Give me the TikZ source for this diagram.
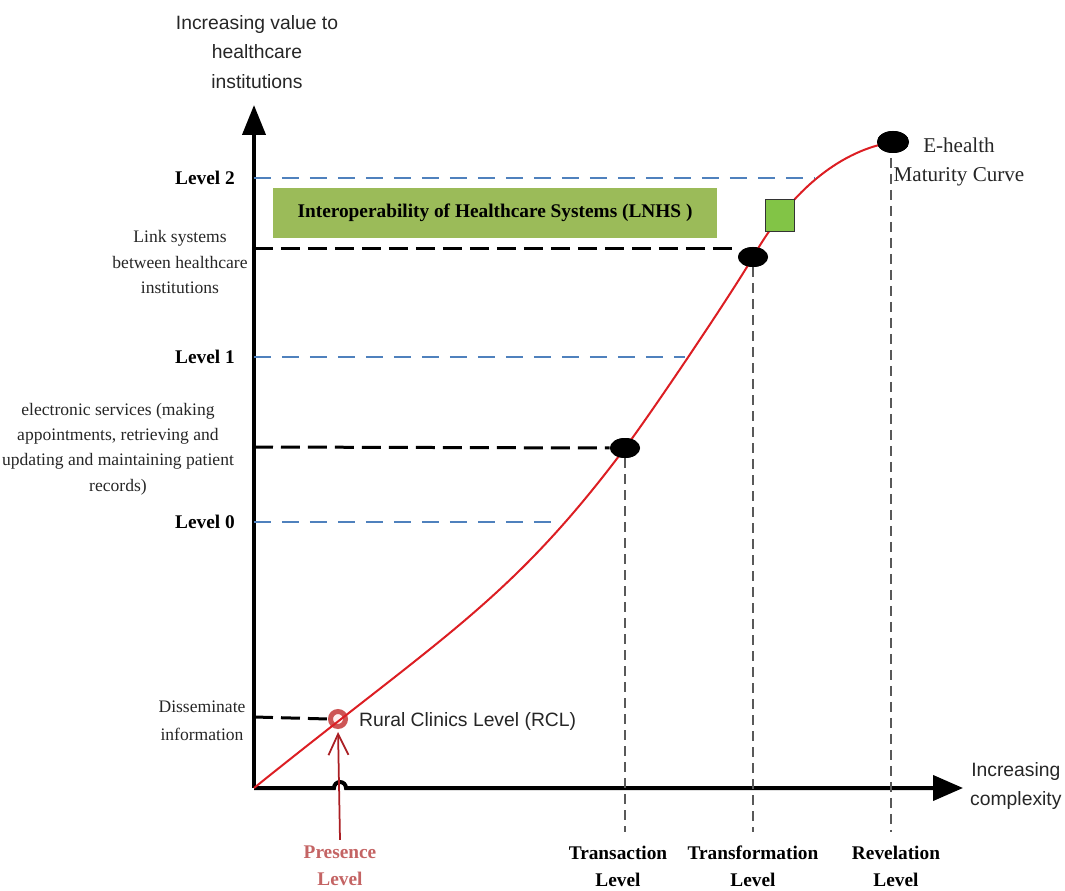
\documentclass[tikz,border=0pt]{standalone}
\usepackage{fontspec}
\setmainfont{Liberation Serif}
\setsansfont{Liberation Sans}
\usetikzlibrary{arrows.meta,shapes.geometric}
\definecolor{lvlblue}{RGB}{79,129,189}
\definecolor{curvered}{RGB}{220,30,35}
\definecolor{arrowred}{RGB}{170,30,35}
\definecolor{ringred}{RGB}{205,85,85}
\definecolor{presred}{RGB}{196,100,100}
\definecolor{boxgreen}{RGB}{155,187,89}
\definecolor{sqgreen}{RGB}{130,196,70}
\begin{document}
\begin{tikzpicture}[x=0.02cm, y=-0.02cm,
    levelline/.style={lvlblue, line width=0.045cm, dash pattern=on 0.34cm off 0.22cm},
    linkline/.style={black, line width=0.06cm, dash pattern=on 0.38cm off 0.16cm},
    guideline/.style={black!65, line width=0.03cm, dash pattern=on 0.2cm off 0.12cm},
    dot/.style={ellipse, fill=black, minimum width=0.6cm, minimum height=0.4cm, inner sep=0pt},
    lvl/.style={font=\fontsize{11}{13}\selectfont\bfseries, anchor=east},
    note/.style={font=\fontsize{10}{14.5}\selectfont, align=center, text=black!85},
    stage/.style={font=\fontsize{11}{15.3}\selectfont\bfseries, align=center},
    axislabel/.style={font=\sffamily\fontsize{11}{17}\selectfont, align=center, text=black!85}
]
\useasboundingbox (0,0) rectangle (1065,891);

% axes
\coordinate (o) at (254,788);
\coordinate (ytop) at (254,105);
\coordinate (xend) at (963,788);
\coordinate (bot) at (0,832);
\draw[-{Triangle[length=0.6cm,width=0.46cm]}, line width=0.08cm] (o) -- (ytop);
\draw[-{Triangle[length=0.6cm,width=0.5cm]}, line width=0.08cm]
    (o) -- (334,788) arc[start angle=180, end angle=0, radius=0.12cm] -- (xend);
\node[axislabel] (yname) at (257,52) {Increasing value to\\healthcare\\institutions};
\node[axislabel, anchor=west, font=\sffamily\fontsize{11}{16}\selectfont] (xname) at (964,786) {Increasing\\complexity};

% levels
\node[lvl] (lv2) at (241,178) {Level 2};
\node[lvl] (lv1) at (241,357) {Level 1};
\node[lvl] (lv0) at (241,522) {Level 0};
\coordinate (l2e) at (815,178);
\coordinate (l1e) at (685,357);
\coordinate (l0e) at (560,522);
\draw[levelline] (o |- lv2) -- (l2e);
\draw[levelline] (o |- lv1) -- (l1e);
\draw[levelline] (o |- lv0) -- (l0e);

% notes on the value axis
\node[note] (link) at (180,262) {Link systems\\between healthcare\\institutions};
\node[note] (elec) at (118,449) {electronic services (making\\appointments, retrieving and\\updating and maintaining patient\\records)};
\node[note, font=\fontsize{10}{16}\selectfont] (diss) at (202,721) {Disseminate\\information};

\node[fill=boxgreen, minimum width=8.88cm, minimum height=1cm,
    font=\fontsize{11}{13}\selectfont\bfseries] (lnhs) at (495,213)
    {Interoperability of Healthcare Systems (LNHS )};

% stages
\node[dot] (trans) at (625,448) {};
\node[dot] (transf) at (753,257) {};
\node[dot, minimum width=0.64cm, minimum height=0.44cm] (rev) at (893,142) {};
\node[stage, text=presred] (pres) at (340,866) {Presence\\Level};
\node[stage] (transl) at (618,866) {Transaction\\Level};
\node[stage] (transfl) at (753,866) {Transformation\\Level};
\node[stage] (revl) at (896,866) {Revelation\\Level};
\draw[guideline] (trans) -- (trans |- bot);
\draw[guideline] (transf) -- (transf |- bot);
\draw[guideline] (891,142) -- (891,832);

\node[circle, draw=ringred, line width=0.1cm, fill=red!6, minimum size=0.3cm, inner sep=0pt] (rcl) at (338,719) {};
\draw[linkline] (254,249) -- (transf.west |- 0,249);
\draw[linkline] (254,447) -- (trans.west);
\draw[linkline] (254,717) -- (rcl.west);

% maturity curve
\draw[curvered, line width=0.04cm] (o) .. controls (444,635) and (511,600) .. (trans.center)
    .. controls (652,412) and (730,296) .. (transf.center)
    .. controls (793,187) and (843,150) .. (rev.center);
\node[dot] at (trans) {};
\node[dot] at (transf) {};
\node[dot, minimum width=0.64cm, minimum height=0.44cm] at (rev) {};
\node[draw=black!80, fill=sqgreen, minimum width=0.58cm, minimum height=0.64cm, inner sep=0pt] (sq) at (780,215) {};

\node[anchor=west, font=\sffamily\fontsize{11}{13}\selectfont, text=black!85] (rcltext) at (353,721) {Rural Clinics Level (RCL)};
\node[font=\fontsize{12}{16.4}\selectfont, align=center, text=black!85] (ehealth) at (959,162) {E-health\\Maturity Curve};

\draw[arrowred, line width=0.035cm, -{Straight Barb[length=0.42cm,width=0.4cm]}, shorten >=0.06cm]
    (pres.north) -- (rcl.south);
\end{tikzpicture}
\end{document}
